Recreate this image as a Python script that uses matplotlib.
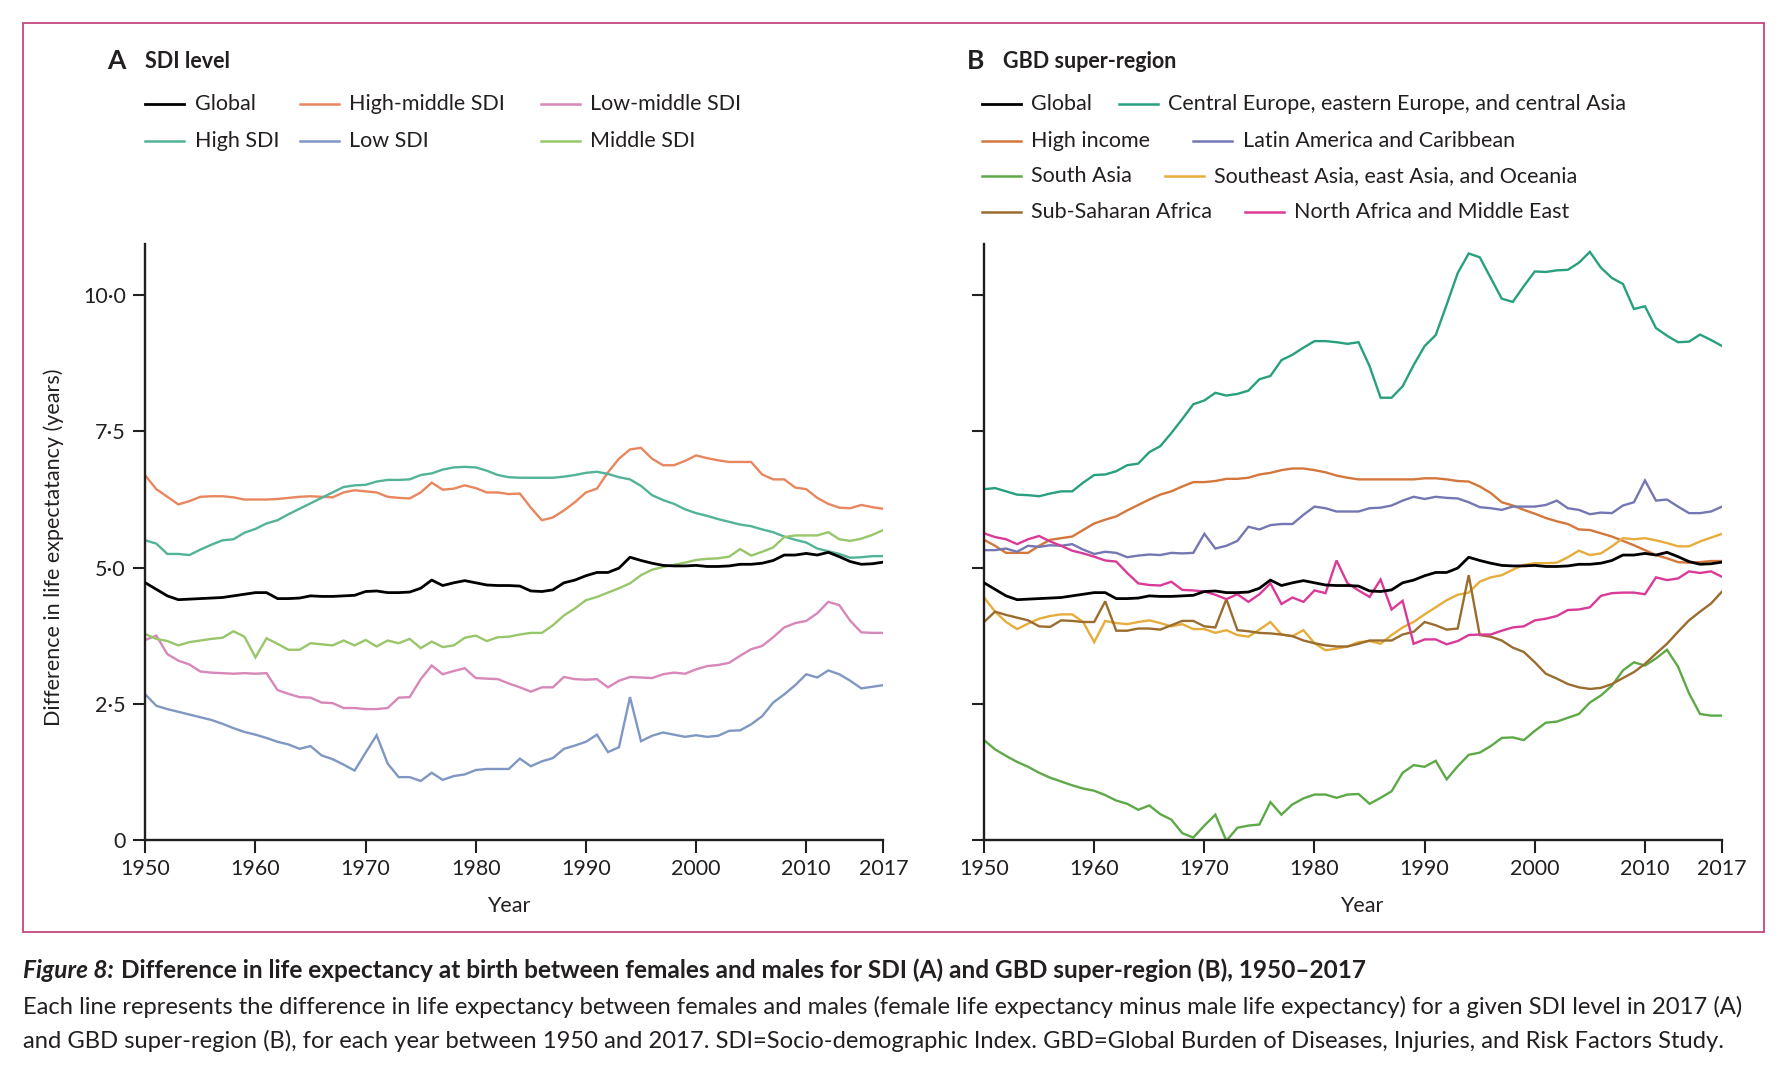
import matplotlib
matplotlib.use('Agg')
import matplotlib.pyplot as plt
from matplotlib.lines import Line2D
from matplotlib.patches import Rectangle

plt.rcParams['font.family'] = ['Lato', 'DejaVu Sans']

years = list(range(1950, 2018))

# ---------------- Panel A: SDI level ----------------
global_vals = [4.72, 4.60, 4.48, 4.41, 4.42, 4.43, 4.44, 4.45, 4.48, 4.51,
               4.54, 4.54, 4.43, 4.43, 4.44, 4.48, 4.47, 4.47, 4.48, 4.49,
               4.56, 4.57, 4.54, 4.54, 4.55, 4.62, 4.77, 4.67, 4.72, 4.76,
               4.72, 4.68, 4.67, 4.67, 4.66, 4.57, 4.56, 4.59, 4.72, 4.77,
               4.85, 4.91, 4.91, 4.99, 5.19, 5.13, 5.08, 5.04, 5.03, 5.03,
               5.04, 5.02, 5.02, 5.03, 5.06, 5.06, 5.08, 5.13, 5.23, 5.23,
               5.26, 5.23, 5.28, 5.20, 5.11, 5.06, 5.07, 5.10]
high_middle_sdi = [6.69, 6.44, 6.30, 6.16, 6.22, 6.30, 6.31, 6.31, 6.29, 6.25,
                   6.25, 6.25, 6.26, 6.28, 6.30, 6.31, 6.30, 6.29, 6.38, 6.42,
                   6.40, 6.38, 6.30, 6.28, 6.27, 6.38, 6.56, 6.43, 6.45, 6.51,
                   6.46, 6.38, 6.38, 6.35, 6.36, 6.10, 5.87, 5.92, 6.05, 6.20,
                   6.38, 6.45, 6.75, 7.00, 7.17, 7.20, 7.00, 6.88, 6.88, 6.96,
                   7.06, 7.01, 6.97, 6.94, 6.94, 6.94, 6.71, 6.62, 6.62, 6.47,
                   6.44, 6.28, 6.17, 6.10, 6.09, 6.15, 6.11, 6.08]
low_middle_sdi = [3.67, 3.75, 3.41, 3.29, 3.22, 3.09, 3.07, 3.06, 3.05, 3.06,
                  3.05, 3.06, 2.75, 2.68, 2.62, 2.61, 2.52, 2.51, 2.42, 2.42,
                  2.40, 2.40, 2.42, 2.61, 2.62, 2.95, 3.20, 3.04, 3.10, 3.15,
                  2.97, 2.96, 2.95, 2.87, 2.80, 2.72, 2.80, 2.80, 2.99, 2.95,
                  2.94, 2.95, 2.80, 2.92, 2.99, 2.98, 2.97, 3.04, 3.07, 3.05,
                  3.13, 3.19, 3.21, 3.25, 3.38, 3.50, 3.56, 3.72, 3.90, 3.98,
                  4.02, 4.16, 4.37, 4.31, 4.02, 3.81, 3.80, 3.80]
high_sdi = [5.50, 5.44, 5.25, 5.25, 5.23, 5.33, 5.42, 5.50, 5.52, 5.64,
            5.71, 5.81, 5.87, 5.98, 6.08, 6.18, 6.28, 6.38, 6.48, 6.51,
            6.52, 6.58, 6.61, 6.61, 6.62, 6.70, 6.73, 6.80, 6.84, 6.85,
            6.84, 6.78, 6.70, 6.66, 6.65, 6.65, 6.65, 6.65, 6.67, 6.70,
            6.74, 6.76, 6.72, 6.66, 6.62, 6.50, 6.33, 6.24, 6.17, 6.07,
            6.00, 5.95, 5.89, 5.84, 5.79, 5.76, 5.70, 5.65, 5.57, 5.51,
            5.46, 5.35, 5.30, 5.25, 5.18, 5.19, 5.21, 5.21]
low_sdi = [2.67, 2.46, 2.40, 2.35, 2.30, 2.25, 2.20, 2.13, 2.05, 1.98,
           1.93, 1.87, 1.80, 1.75, 1.67, 1.72, 1.55, 1.48, 1.38, 1.27,
           1.60, 1.92, 1.40, 1.15, 1.15, 1.08, 1.23, 1.10, 1.17, 1.20,
           1.28, 1.30, 1.30, 1.30, 1.49, 1.35, 1.44, 1.50, 1.67, 1.73,
           1.80, 1.93, 1.61, 1.70, 2.62, 1.81, 1.91, 1.97, 1.93, 1.89,
           1.92, 1.89, 1.91, 2.00, 2.01, 2.12, 2.27, 2.52, 2.67, 2.84,
           3.04, 2.98, 3.11, 3.04, 2.92, 2.78, 2.81, 2.84]
middle_sdi = [3.78, 3.69, 3.65, 3.57, 3.63, 3.66, 3.69, 3.71, 3.83, 3.73,
              3.35, 3.70, 3.60, 3.49, 3.49, 3.61, 3.59, 3.57, 3.66, 3.57,
              3.67, 3.55, 3.66, 3.61, 3.69, 3.52, 3.64, 3.54, 3.57, 3.71,
              3.75, 3.65, 3.72, 3.73, 3.77, 3.80, 3.80, 3.94, 4.12, 4.25,
              4.40, 4.46, 4.54, 4.62, 4.71, 4.86, 4.96, 5.01, 5.05, 5.09,
              5.14, 5.16, 5.17, 5.20, 5.34, 5.22, 5.29, 5.37, 5.56, 5.59,
              5.59, 5.59, 5.65, 5.52, 5.49, 5.53, 5.60, 5.69]

# ---------------- Panel B: GBD super-region ----------------
ceeca = [6.44, 6.46, 6.40, 6.34, 6.33, 6.31, 6.36, 6.40, 6.40, 6.56,
         6.70, 6.71, 6.77, 6.88, 6.91, 7.12, 7.23, 7.47, 7.73, 8.00,
         8.07, 8.21, 8.16, 8.19, 8.25, 8.46, 8.52, 8.81, 8.91, 9.04,
         9.16, 9.16, 9.14, 9.11, 9.14, 8.70, 8.12, 8.12, 8.33, 8.72,
         9.07, 9.27, 9.83, 10.41, 10.77, 10.70, 10.32, 9.94, 9.88, 10.17,
         10.44, 10.43, 10.46, 10.47, 10.60, 10.80, 10.51, 10.32, 10.21, 9.75,
         9.80, 9.40, 9.26, 9.14, 9.15, 9.28, 9.18, 9.07]
high_income = [5.51, 5.40, 5.27, 5.27, 5.27, 5.40, 5.51, 5.54, 5.57, 5.69,
               5.81, 5.88, 5.94, 6.05, 6.15, 6.25, 6.34, 6.40, 6.49, 6.57,
               6.57, 6.59, 6.63, 6.63, 6.65, 6.71, 6.74, 6.79, 6.82, 6.82,
               6.79, 6.75, 6.69, 6.65, 6.62, 6.62, 6.62, 6.62, 6.62, 6.62,
               6.64, 6.64, 6.62, 6.59, 6.58, 6.49, 6.37, 6.20, 6.14, 6.06,
               5.99, 5.91, 5.85, 5.80, 5.70, 5.69, 5.63, 5.57, 5.49, 5.41,
               5.32, 5.23, 5.17, 5.10, 5.09, 5.10, 5.12, 5.12]
latin_america = [5.32, 5.32, 5.35, 5.29, 5.40, 5.38, 5.41, 5.40, 5.43, 5.33,
                 5.25, 5.29, 5.27, 5.19, 5.22, 5.24, 5.23, 5.27, 5.26, 5.27,
                 5.62, 5.35, 5.40, 5.49, 5.75, 5.70, 5.78, 5.80, 5.80, 5.97,
                 6.12, 6.09, 6.03, 6.03, 6.03, 6.09, 6.10, 6.14, 6.23, 6.30,
                 6.26, 6.30, 6.28, 6.27, 6.20, 6.11, 6.09, 6.06, 6.12, 6.12,
                 6.12, 6.15, 6.23, 6.09, 6.06, 5.98, 6.01, 6.00, 6.14, 6.20,
                 6.60, 6.23, 6.25, 6.12, 6.00, 6.00, 6.03, 6.12]
south_asia = [1.83, 1.66, 1.54, 1.43, 1.34, 1.23, 1.14, 1.07, 1.00, 0.94,
              0.90, 0.82, 0.72, 0.66, 0.55, 0.63, 0.47, 0.37, 0.12, 0.04,
              0.26, 0.46, -0.02, 0.22, 0.26, 0.28, 0.69, 0.46, 0.65, 0.76,
              0.83, 0.83, 0.77, 0.83, 0.84, 0.66, 0.77, 0.89, 1.23, 1.37,
              1.34, 1.45, 1.11, 1.35, 1.56, 1.60, 1.72, 1.87, 1.88, 1.83,
              2.00, 2.15, 2.17, 2.24, 2.31, 2.52, 2.65, 2.83, 3.11, 3.26,
              3.20, 3.33, 3.49, 3.18, 2.69, 2.31, 2.28, 2.28]
sub_saharan = [4.00, 4.19, 4.13, 4.08, 4.03, 3.92, 3.91, 4.03, 4.02, 4.00,
               4.00, 4.38, 3.84, 3.84, 3.88, 3.88, 3.86, 3.94, 4.02, 4.02,
               3.92, 3.90, 4.42, 3.85, 3.83, 3.80, 3.79, 3.77, 3.74, 3.66,
               3.61, 3.57, 3.55, 3.55, 3.60, 3.66, 3.66, 3.66, 3.77, 3.82,
               4.00, 3.94, 3.86, 3.88, 4.86, 3.76, 3.73, 3.66, 3.53, 3.45,
               3.26, 3.05, 2.96, 2.86, 2.80, 2.77, 2.79, 2.86, 2.97, 3.08,
               3.23, 3.42, 3.60, 3.82, 4.03, 4.19, 4.34, 4.56]
southeast_asia = [4.45, 4.19, 4.00, 3.87, 3.97, 4.06, 4.11, 4.14, 4.14, 4.00,
                  3.63, 4.02, 3.98, 3.96, 4.00, 4.03, 3.98, 3.92, 3.96, 3.87,
                  3.87, 3.80, 3.85, 3.76, 3.73, 3.86, 4.00, 3.77, 3.74, 3.85,
                  3.61, 3.48, 3.51, 3.55, 3.63, 3.65, 3.60, 3.76, 3.90, 4.00,
                  4.14, 4.27, 4.40, 4.50, 4.54, 4.74, 4.82, 4.86, 4.96, 5.05,
                  5.08, 5.08, 5.09, 5.19, 5.31, 5.23, 5.26, 5.39, 5.54, 5.52,
                  5.54, 5.50, 5.45, 5.39, 5.39, 5.48, 5.55, 5.62]
north_africa = [5.63, 5.56, 5.52, 5.43, 5.52, 5.58, 5.48, 5.40, 5.31, 5.26,
                5.20, 5.13, 5.11, 4.90, 4.71, 4.68, 4.67, 4.74, 4.59, 4.58,
                4.56, 4.50, 4.42, 4.51, 4.37, 4.51, 4.71, 4.33, 4.45, 4.37,
                4.58, 4.53, 5.13, 4.71, 4.58, 4.46, 4.78, 4.23, 4.39, 3.60,
                3.68, 3.68, 3.59, 3.65, 3.76, 3.77, 3.77, 3.84, 3.90, 3.92,
                4.03, 4.06, 4.11, 4.22, 4.23, 4.27, 4.48, 4.53, 4.54, 4.54,
                4.51, 4.82, 4.77, 4.80, 4.93, 4.90, 4.93, 4.83]

xticks = [1950, 1960, 1970, 1980, 1990, 2000, 2010, 2017]
xtick_labels = ['1950', '1960', '1970', '1980', '1990', '2000', '2010', '2017']
yticks = [0, 2.5, 5.0, 7.5, 10.0]
ytick_labels = ['0', '2·5', '5·0', '7·5', '10·0']

seriesA = [
    ('Global', global_vals, '#000000'),
    ('High-middle SDI', high_middle_sdi, '#e8875f'),
    ('Low-middle SDI', low_middle_sdi, '#d787b8'),
    ('High SDI', high_sdi, '#52b398'),
    ('Low SDI', low_sdi, '#7f97c2'),
    ('Middle SDI', middle_sdi, '#98c66a'),
]
seriesB = [
    ('Global', global_vals, '#000000'),
    ('Central Europe, eastern Europe, and central Asia', ceeca, '#28a07f'),
    ('High income', high_income, '#d4773d'),
    ('Latin America and Caribbean', latin_america, '#7577b2'),
    ('South Asia', south_asia, '#5ea947'),
    ('Southeast Asia, east Asia, and Oceania', southeast_asia, '#e6ad3c'),
    ('Sub-Saharan Africa', sub_saharan, '#9a6d2f'),
    ('North Africa and Middle East', north_africa, '#d93a98'),
]

W, H = 1560.0, 934.4
def fx(x):
    return x / W
def fy(y):
    return 1 - y / H

fig = plt.figure(figsize=(17.85, 10.69), dpi=100)
fig.patch.set_facecolor('white')
TXT = '#231f20'

fig.add_artist(Rectangle((fx(20), fy(815)), fx(1542) - fx(20), fy(20) - fy(815),
                         transform=fig.transFigure, fill=False,
                         edgecolor='#c4487f', linewidth=1.3))

axA = fig.add_axes([fx(127), fy(734), fx(772) - fx(127), fy(213) - fy(734)])
axB = fig.add_axes([fx(860), fy(734), fx(1505) - fx(860), fy(213) - fy(734)])

for ax, series in ((axA, seriesA), (axB, seriesB)):
    for name, vals, col in series[1:]:
        ax.plot(years, vals, color=col, lw=1.7, solid_joinstyle='miter')
    name, vals, col = series[0]
    ax.plot(years, vals, color=col, lw=2.0, zorder=5)
    for s in ('top', 'right'):
        ax.spines[s].set_visible(False)
    for s in ('left', 'bottom'):
        ax.spines[s].set_linewidth(1.7)
        ax.spines[s].set_color(TXT)
    ax.set_xlim(1950, 2017)
    ax.set_ylim(0, 10.95)
    ax.set_xticks(xticks)
    ax.set_xticklabels(xtick_labels)
    ax.set_yticks(yticks)
    ax.tick_params(direction='out', length=9, width=1.5, colors=TXT,
                   labelsize=15.5, pad=5)
    ax.set_facecolor('none')

axA.set_yticklabels(ytick_labels)
axB.set_yticklabels([''] * len(yticks))

LEG_FS = 15.5

def legend_item(x, y, color, label, lw=1.8):
    fig.add_artist(Line2D([fx(x), fx(x + 34)], [fy(y), fy(y)],
                          transform=fig.transFigure, color=color, lw=lw))
    fig.text(fx(x + 43), fy(y), label, ha='left', va='center',
             fontsize=LEG_FS, color=TXT)

# Panel A legend
legend_item(127, 91, seriesA[0][2], seriesA[0][0], 2.0)
legend_item(262, 91, seriesA[1][2], seriesA[1][0])
legend_item(473, 91, seriesA[2][2], seriesA[2][0])
legend_item(127, 123, seriesA[3][2], seriesA[3][0])
legend_item(262, 123, seriesA[4][2], seriesA[4][0])
legend_item(473, 123, seriesA[5][2], seriesA[5][0])

# Panel B legend
legend_item(858, 91, seriesB[0][2], seriesB[0][0], 2.0)
legend_item(978, 91, seriesB[1][2], seriesB[1][0])
legend_item(858, 123, seriesB[2][2], seriesB[2][0])
legend_item(1043, 123, seriesB[3][2], seriesB[3][0])
legend_item(858, 154, seriesB[4][2], seriesB[4][0])
legend_item(1018, 154, seriesB[5][2], seriesB[5][0])
legend_item(858, 185, seriesB[6][2], seriesB[6][0])
legend_item(1088, 185, seriesB[7][2], seriesB[7][0])

# Panel titles
fig.text(fx(94), fy(53), 'A', fontsize=19, weight='bold', ha='left', va='center', color=TXT)
fig.text(fx(127), fy(54), 'SDI level', fontsize=15.5, weight='bold', ha='left', va='center', color=TXT)
fig.text(fx(845), fy(53), 'B', fontsize=19, weight='bold', ha='left', va='center', color=TXT)
fig.text(fx(877), fy(54), 'GBD super-region', fontsize=15.5, weight='bold', ha='left', va='center', color=TXT)

# Axis labels
fig.text(fx(47), fy(478), 'Difference in life expectatancy (years)', rotation=90,
         ha='center', va='center', fontsize=15.5, color=TXT)
fig.text(fx(445), fy(792), 'Year', ha='center', va='center', fontsize=15.5, color=TXT)
fig.text(fx(1190), fy(792), 'Year', ha='center', va='center', fontsize=15.5, color=TXT)

# Caption
renderer = fig.canvas.get_renderer()
t1 = fig.text(fx(20), fy(848), 'Figure 8:', fontsize=17.6, weight='bold', style='italic',
              ha='left', va='center', color=TXT)
bb = t1.get_window_extent(renderer=renderer)
x_next = bb.x1 / fig.bbox.width + 0.004
fig.text(x_next, fy(848),
         'Difference in life expectancy at birth between females and males for SDI (A) and GBD super-region (B), 1950–2017',
         fontsize=17.6, weight='bold', ha='left', va='center', color=TXT)
fig.text(fx(20), fy(880),
         'Each line represents the difference in life expectancy between females and males (female life expectancy minus male life expectancy) for a given SDI level in 2017 (A)',
         fontsize=17.1, ha='left', va='center', color=TXT)
fig.text(fx(20), fy(910),
         'and GBD super-region (B), for each year between 1950 and 2017. SDI=Socio-demographic Index. GBD=Global Burden of Diseases, Injuries, and Risk Factors Study.',
         fontsize=17.1, ha='left', va='center', color=TXT)

fig.savefig('out.png', dpi=100, facecolor='white')
